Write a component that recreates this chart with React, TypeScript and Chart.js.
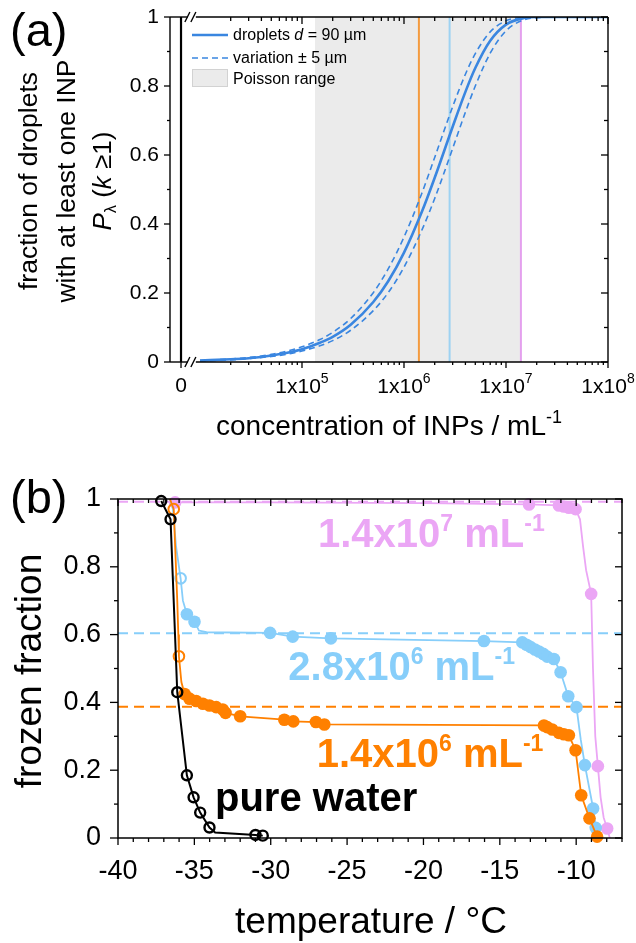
import React, { useEffect, useRef } from 'react';
import { Chart, registerables } from 'chart.js';

Chart.register(...registerables);

const FONT = '"Liberation Sans", Arial, Helvetica, sans-serif';

// ---------------- (a) fraction of droplets with at least one INP ----------------
const concentrations = [1e4, 2e4, 3e4, 5e4, 7e4, 1e5, 1.5e5, 2e5, 3e5, 5e5, 7e5, 1e6, 1.5e6, 2e6, 3e6, 4e6, 5e6, 7e6, 1e7, 1.5e7, 2e7, 3e7, 5e7, 1e8];
const fractionD90 = [0.004, 0.008, 0.011, 0.019, 0.026, 0.037, 0.056, 0.073, 0.108, 0.174, 0.234, 0.317, 0.436, 0.534, 0.682, 0.783, 0.852, 0.931, 0.978, 0.997, 1, 1, 1, 1];
const fractionD85 = [0.003, 0.006, 0.010, 0.016, 0.022, 0.032, 0.047, 0.062, 0.092, 0.149, 0.201, 0.275, 0.383, 0.474, 0.619, 0.724, 0.800, 0.895, 0.960, 0.992, 0.998, 1, 1, 1];
const fractionD95 = [0.004, 0.009, 0.013, 0.022, 0.031, 0.044, 0.065, 0.086, 0.126, 0.201, 0.270, 0.362, 0.490, 0.593, 0.740, 0.834, 0.894, 0.957, 0.989, 0.999, 1, 1, 1, 1];
const poissonRange = [1.34e5, 1.4e7];
const sampleConcentrations = [1.4e6, 2.8e6, 1.4e7];
const xTickExponentsA = [5, 6, 7, 8];
const minorDecadesA = [4, 5, 6, 7];
const yTicksA = [0, 0.2, 0.4, 0.6, 0.8, 1];

// ---------------- (b) frozen fraction vs temperature ----------------
const pureWaterCurve = [[-37.17, 0.994], [-36.56, 0.94], [-36.12, 0.43], [-35.49, 0.185], [-35.05, 0.12], [-34.62, 0.075], [-34.01, 0.031], [-33.64, 0.016], [-31.0, 0.009], [-30.52, 0.007]];
const pureWaterOpen = [[-37.17, 0.994], [-36.56, 0.94], [-36.12, 0.43], [-35.49, 0.185], [-35.05, 0.12], [-34.62, 0.075], [-34.01, 0.031], [-31.0, 0.009], [-30.52, 0.007]];

const conc14e6Curve = [[-36.6, 1.0], [-36.35, 0.97], [-36.25, 0.85], [-36.12, 0.7], [-36.05, 0.6], [-36.01, 0.536], [-35.85, 0.46], [-35.64, 0.425], [-35.32, 0.411], [-34.88, 0.404], [-34.44, 0.396], [-34.01, 0.391], [-33.57, 0.386], [-33.14, 0.379], [-32.96, 0.369], [-32.0, 0.359], [-29.11, 0.349], [-28.52, 0.344], [-27.04, 0.342], [-26.49, 0.335], [-12.11, 0.332], [-11.9, 0.327], [-11.57, 0.32], [-11.13, 0.31], [-10.81, 0.306], [-10.48, 0.303], [-10.04, 0.259], [-9.67, 0.126], [-9.13, 0.058], [-8.63, 0.004]];
const conc14e6Filled = [[-35.64, 0.425], [-35.32, 0.411], [-34.88, 0.404], [-34.44, 0.396], [-34.01, 0.391], [-33.57, 0.386], [-33.14, 0.379], [-32.96, 0.369], [-32.0, 0.359], [-29.11, 0.349], [-28.52, 0.344], [-27.04, 0.342], [-26.49, 0.335], [-12.11, 0.332], [-11.9, 0.327], [-11.57, 0.32], [-11.13, 0.31], [-10.81, 0.306], [-10.48, 0.303], [-10.04, 0.259], [-9.67, 0.126], [-9.13, 0.058], [-8.63, 0.004]];
const conc14e6Open = [[-36.35, 0.97], [-36.01, 0.536]];

const conc28e6Curve = [[-36.6, 1.0], [-36.4, 0.97], [-36.2, 0.86], [-35.9, 0.766], [-35.75, 0.70], [-35.49, 0.66], [-34.99, 0.638], [-34.7, 0.612], [-34.2, 0.607], [-30.04, 0.605], [-28.56, 0.594], [-26.06, 0.589], [-16.04, 0.581], [-13.53, 0.577], [-12.98, 0.563], [-12.44, 0.55], [-11.9, 0.535], [-11.46, 0.528], [-11.02, 0.489], [-10.52, 0.418], [-9.98, 0.386], [-9.7, 0.29], [-9.43, 0.215], [-8.89, 0.087], [-8.72, 0.03], [-8.55, 0.0]];
const conc28e6Filled = [[-35.49, 0.66], [-34.99, 0.638], [-30.04, 0.605], [-28.56, 0.594], [-26.06, 0.589], [-16.04, 0.581], [-13.53, 0.577], [-13.25, 0.57], [-12.98, 0.563], [-12.7, 0.556], [-12.44, 0.55], [-12.15, 0.543], [-11.9, 0.535], [-11.46, 0.528], [-11.02, 0.489], [-10.52, 0.418], [-9.98, 0.386], [-9.43, 0.215], [-8.89, 0.087], [-8.72, 0.03]];
const conc28e6Open = [[-35.9, 0.766]];

const conc14e7Curve = [[-36.6, 1.0], [-36.26, 0.99], [-30.0, 0.99], [-20.0, 0.988], [-13.09, 0.984], [-11.13, 0.981], [-10.81, 0.978], [-10.48, 0.974], [-10.04, 0.97], [-9.75, 0.94], [-9.55, 0.86], [-9.35, 0.79], [-9.02, 0.72], [-8.9, 0.5], [-8.75, 0.3], [-8.58, 0.212], [-8.4, 0.12], [-8.2, 0.06], [-7.97, 0.028], [-7.8, 0.0]];
const conc14e7Filled = [[-36.26, 0.99], [-13.09, 0.984], [-11.13, 0.981], [-10.81, 0.978], [-10.48, 0.974], [-10.04, 0.97], [-9.02, 0.72], [-8.58, 0.212], [-7.97, 0.028]];

const referenceFractions = [0.992, 0.604, 0.387];
const xTicksB = [-40, -35, -30, -25, -20, -15, -10];
const yTicksB = [0, 0.2, 0.4, 0.6, 0.8, 1];

// ---------------- geometry / style ----------------
const LOG_MIN = 3.706;
const LOG_MAX = 8;
const ZERO_POS = 3.814;
const BREAK_POS = 3.93;
const T_MIN = -40;
const T_MAX = -7;

const BLUE = '#3A86E0';
const GRAY_BAND = '#EBEBEB';
const ORANGE = '#FF8000';
const LIGHTBLUE = '#87CEFA';
const VIOLET = '#EBA6F5';
const SAMPLE_COLORS_A = ['#F49B3F', '#9DD2F2', '#E4A0EE'];
const SAMPLE_COLORS_B = [ORANGE, LIGHTBLUE, VIOLET];

const fnt = (size: number, style = '') => `${style} ${size}px ${FONT}`.trim();

type Part = { t: string; font: string; dy?: number };
function drawRich(ctx: CanvasRenderingContext2D, parts: Part[], x: number, y: number, align: 'left' | 'center' | 'right' = 'left') {
  let w = 0;
  for (const p of parts) { ctx.font = p.font; w += ctx.measureText(p.t).width; }
  let cx = align === 'center' ? x - w / 2 : align === 'right' ? x - w : x;
  ctx.textAlign = 'left';
  ctx.textBaseline = 'alphabetic';
  for (const p of parts) {
    ctx.font = p.font;
    ctx.fillText(p.t, cx, y + (p.dy || 0));
    cx += ctx.measureText(p.t).width;
  }
}
function seg(ctx: CanvasRenderingContext2D, x1: number, y1: number, x2: number, y2: number) {
  ctx.beginPath(); ctx.moveTo(x1, y1); ctx.lineTo(x2, y2); ctx.stroke();
}
function rotated(ctx: CanvasRenderingContext2D, bx: number, cy: number, fn: () => void) {
  ctx.save(); ctx.translate(bx, cy); ctx.rotate(-Math.PI / 2); fn(); ctx.restore();
}
const sciParts = (c: number, size: number, supSize: number, dy: number, style: string): Part[] => {
  const e = Math.floor(Math.log10(c) + 1e-9);
  const m = (c / Math.pow(10, e)).toFixed(1);
  return [
    { t: `${m}x10`, font: fnt(size, style) },
    { t: String(e), font: fnt(supSize, style), dy },
    { t: ' mL', font: fnt(size, style) },
    { t: '-1', font: fnt(supSize, style), dy },
  ];
};

// ---------------- panel (a) ----------------
const panelAPlugin = {
  id: 'panelA',
  beforeDatasetsDraw(chart: any) {
    const { ctx, chartArea: { top, bottom }, scales: { x } } = chart;
    const x1 = x.getPixelForValue(Math.log10(poissonRange[0]));
    const x2 = x.getPixelForValue(Math.log10(poissonRange[1]));
    ctx.save();
    ctx.fillStyle = GRAY_BAND;
    ctx.fillRect(x1, top, x2 - x1, bottom - top);
    ctx.restore();
  },
  afterDraw(chart: any) {
    const { ctx, chartArea: { left, right, top, bottom }, scales: { x, y } } = chart;
    ctx.save();
    ctx.strokeStyle = '#000';
    ctx.fillStyle = '#000';
    ctx.lineWidth = 1.4;
    seg(ctx, left, top, left, bottom);
    seg(ctx, right, top, right, bottom);
    const x0 = x.getPixelForValue(ZERO_POS);
    const xb = x.getPixelForValue(BREAK_POS);
    for (const yy of [top, bottom]) {
      seg(ctx, left, yy, xb - 5, yy);
      seg(ctx, xb + 3, yy, right, yy);
      seg(ctx, xb - 8, yy + 5, xb - 3, yy - 5);
      seg(ctx, xb - 2, yy + 5, xb + 3, yy - 5);
    }
    ctx.lineWidth = 2.2;
    seg(ctx, x0, top, x0, bottom);

    // ticks
    ctx.lineWidth = 1.3;
    seg(ctx, x0, bottom, x0, bottom + 6);
    for (const e of xTickExponentsA) {
      const px = x.getPixelForValue(e);
      seg(ctx, px, bottom, px, bottom + 6);
      seg(ctx, px, top, px, top + 7);
    }
    for (const d of minorDecadesA) {
      for (let m = 2; m <= 9; m++) {
        const px = x.getPixelForValue(d + Math.log10(m));
        seg(ctx, px, bottom, px, bottom + 3);
        seg(ctx, px, top, px, top + 4);
      }
    }
    for (let i = 0; i < yTicksA.length; i++) {
      const py = y.getPixelForValue(yTicksA[i]);
      seg(ctx, left - 6, py, left, py);
      seg(ctx, right - 7, py, right, py);
      if (i < yTicksA.length - 1) {
        const pm = y.getPixelForValue((yTicksA[i] + yTicksA[i + 1]) / 2);
        seg(ctx, left - 3, pm, left, pm);
        seg(ctx, right - 4, pm, right, pm);
      }
    }

    // tick labels
    ctx.font = fnt(21);
    ctx.textAlign = 'right';
    ctx.textBaseline = 'middle';
    for (const v of yTicksA) ctx.fillText(String(v), left - 11, y.getPixelForValue(v));
    drawRich(ctx, [{ t: '0', font: fnt(21) }], x0, 392, 'center');
    for (const e of xTickExponentsA) {
      drawRich(ctx, [{ t: '1x10', font: fnt(21) }, { t: String(e), font: fnt(14), dy: -10 }], x.getPixelForValue(e), 393, 'center');
    }

    // axis titles
    drawRich(ctx, [{ t: 'concentration of INPs / mL', font: fnt(28) }, { t: '-1', font: fnt(18), dy: -12 }], (left + right) / 2, 435, 'center');
    rotated(ctx, 37, 181, () => drawRich(ctx, [{ t: 'fraction of droplets', font: fnt(26.5) }], 0, 0, 'center'));
    rotated(ctx, 75, 181, () => drawRich(ctx, [{ t: 'with at least one INP', font: fnt(26.5) }], 0, 0, 'center'));
    rotated(ctx, 111, 181, () => drawRich(ctx, [
      { t: 'P', font: fnt(26, 'italic') },
      { t: 'λ', font: fnt(16), dy: 5 },
      { t: ' (', font: fnt(26) },
      { t: 'k', font: fnt(26, 'italic') },
      { t: ' ≥1)', font: fnt(26) },
    ], 0, 0, 'center'));

    // panel label
    drawRich(ctx, [{ t: '(a)', font: fnt(47) }], 10, 46, 'left');

    // legend
    ctx.strokeStyle = BLUE;
    ctx.lineWidth = 2.6;
    seg(ctx, 192, 35, 228, 35);
    ctx.lineWidth = 1.6;
    ctx.setLineDash([6, 4]);
    seg(ctx, 192, 58, 228, 58);
    ctx.setLineDash([]);
    ctx.fillStyle = GRAY_BAND;
    ctx.fillRect(192, 69, 36, 18);
    ctx.strokeStyle = '#D2D2D2';
    ctx.lineWidth = 1;
    ctx.strokeRect(192.5, 69.5, 35, 17);
    ctx.fillStyle = '#000';
    drawRich(ctx, [{ t: 'droplets ', font: fnt(16) }, { t: 'd', font: fnt(16, 'italic') }, { t: ' = 90 µm', font: fnt(16) }], 233, 40, 'left');
    drawRich(ctx, [{ t: 'variation ± 5 µm', font: fnt(16) }], 233, 63, 'left');
    drawRich(ctx, [{ t: 'Poisson range', font: fnt(16) }], 233, 84, 'left');
    ctx.restore();
  },
};

function configA(): any {
  const xy = (vals: number[]) => concentrations.map((c, i) => ({ x: Math.log10(c), y: vals[i] }));
  const back: any[] = [];
  sampleConcentrations.forEach((c, i) => {
    back.push({
      data: [{ x: Math.log10(c), y: 0 }, { x: Math.log10(c), y: 1 }],
      showLine: true, borderColor: SAMPLE_COLORS_A[i], borderWidth: 2, pointRadius: 0,
    });
  });
  back.push({ data: xy(fractionD85), showLine: true, borderColor: BLUE, borderWidth: 1.6, borderDash: [6, 4], pointRadius: 0, cubicInterpolationMode: 'monotone' });
  back.push({ data: xy(fractionD95), showLine: true, borderColor: BLUE, borderWidth: 1.6, borderDash: [6, 4], pointRadius: 0, cubicInterpolationMode: 'monotone' });
  back.push({ data: xy(fractionD90), showLine: true, borderColor: BLUE, borderWidth: 2.6, pointRadius: 0, cubicInterpolationMode: 'monotone' });
  return {
    type: 'scatter',
    data: { datasets: back.reverse() },
    options: {
      responsive: false,
      animation: false,
      devicePixelRatio: 1,
      events: [],
      layout: { padding: { left: 170, right: 28, top: 17, bottom: 88 } },
      plugins: { legend: { display: false }, tooltip: { enabled: false } },
      scales: {
        x: { type: 'linear', min: LOG_MIN, max: LOG_MAX, display: false },
        y: { type: 'linear', min: 0, max: 1, display: false },
      },
    },
    plugins: [panelAPlugin],
  };
}

// ---------------- panel (b) ----------------
const panelBPlugin = {
  id: 'panelB',
  afterDraw(chart: any) {
    const { ctx, chartArea: { left, right, top, bottom }, scales: { x, y } } = chart;
    ctx.save();
    ctx.strokeStyle = '#000';
    ctx.fillStyle = '#000';
    ctx.lineWidth = 1.5;
    ctx.strokeRect(left, top, right - left, bottom - top);

    ctx.lineWidth = 1.3;
    for (let t = T_MIN; t <= T_MAX; t++) {
      const px = x.getPixelForValue(t);
      const major = xTicksB.includes(t);
      seg(ctx, px, bottom, px, bottom + (major ? 7 : 4));
      seg(ctx, px, top, px, top + (major ? 7 : 4));
    }
    for (let i = 0; i < yTicksB.length; i++) {
      const py = y.getPixelForValue(yTicksB[i]);
      seg(ctx, left - 8, py, left, py);
      seg(ctx, right - 7, py, right, py);
      if (i < yTicksB.length - 1) {
        const pm = y.getPixelForValue((yTicksB[i] + yTicksB[i + 1]) / 2);
        seg(ctx, left - 4, pm, left, pm);
        seg(ctx, right - 4, pm, right, pm);
      }
    }

    ctx.font = fnt(27);
    ctx.textAlign = 'right';
    ctx.textBaseline = 'middle';
    for (const v of yTicksB) ctx.fillText(String(v), left - 17, y.getPixelForValue(v));
    for (const t of xTicksB) drawRich(ctx, [{ t: String(t), font: fnt(27) }], x.getPixelForValue(t), 429, 'center');

    drawRich(ctx, [{ t: 'temperature / °C', font: fnt(37) }], 371, 483, 'center');
    rotated(ctx, 41, 221, () => drawRich(ctx, [{ t: 'frozen fraction', font: fnt(37) }], 0, 0, 'center'));
    drawRich(ctx, [{ t: '(b)', font: fnt(47) }], 10, 63, 'left');

    // annotations
    const annX = [316.7, 288.3, 318];
    const annY = [316.7, 230, 96.7];
    sampleConcentrations.forEach((c, i) => {
      ctx.fillStyle = SAMPLE_COLORS_B[i];
      drawRich(ctx, sciParts(c, 40, 23, -16, 'bold'), annX[i], annY[i], 'left');
    });
    ctx.fillStyle = '#000';
    drawRich(ctx, [{ t: 'pure water', font: fnt(40, 'bold') }], 215, 360.7, 'left');
    ctx.restore();
  },
};

function configB(): any {
  const pts = (arr: number[][]) => arr.map(([t, v]) => ({ x: t, y: v }));
  const series = [
    { curve: conc14e7Curve, filled: conc14e7Filled, open: [] as number[][], color: VIOLET, black: false },
    { curve: conc28e6Curve, filled: conc28e6Filled, open: conc28e6Open, color: LIGHTBLUE, black: false },
    { curve: conc14e6Curve, filled: conc14e6Filled, open: conc14e6Open, color: ORANGE, black: false },
    { curve: pureWaterCurve, filled: [] as number[][], open: pureWaterOpen, color: '#000000', black: true },
  ];
  const refColors = [VIOLET, LIGHTBLUE, ORANGE];
  const back: any[] = [];
  referenceFractions.forEach((v, i) => {
    back.push({ data: [{ x: T_MIN, y: v }, { x: T_MAX, y: v }], showLine: true, borderColor: refColors[i], borderWidth: 2, borderDash: [10, 6], pointRadius: 0 });
  });
  for (const s of series) {
    back.push({ data: pts(s.curve), showLine: true, borderColor: s.color, borderWidth: s.black ? 2 : 1.8, pointRadius: 0, clip: false });
    if (s.filled.length) back.push({ data: pts(s.filled), showLine: false, pointRadius: 6.3, pointBorderWidth: 0, pointBackgroundColor: s.color, pointBorderColor: s.color, clip: false });
    if (s.open.length) back.push({ data: pts(s.open), showLine: false, pointRadius: s.black ? 5 : 5.3, pointBorderWidth: s.black ? 2.4 : 2, pointBackgroundColor: 'rgba(0,0,0,0)', pointBorderColor: s.color, clip: false });
  }
  return {
    type: 'scatter',
    data: { datasets: back.reverse() },
    options: {
      responsive: false,
      animation: false,
      devicePixelRatio: 1,
      events: [],
      layout: { padding: { left: 118, right: 14, top: 49, bottom: 105 } },
      plugins: { legend: { display: false }, tooltip: { enabled: false } },
      scales: {
        x: { type: 'linear', min: T_MIN, max: T_MAX, display: false },
        y: { type: 'linear', min: 0, max: 1, display: false },
      },
    },
    plugins: [panelBPlugin],
  };
}

export default function App() {
  const refA = useRef<HTMLCanvasElement>(null);
  const refB = useRef<HTMLCanvasElement>(null);
  useEffect(() => {
    const a = new Chart(refA.current as HTMLCanvasElement, configA());
    const b = new Chart(refB.current as HTMLCanvasElement, configB());
    return () => { a.destroy(); b.destroy(); };
  }, []);
  return (
    <div style={{ position: 'absolute', left: 0, top: 0, width: 636, height: 943, background: '#fff' }}>
      <canvas ref={refA} width={636} height={450} style={{ position: 'absolute', left: 0, top: 0, width: 636, height: 450 }} />
      <canvas ref={refB} width={636} height={493} style={{ position: 'absolute', left: 0, top: 450, width: 636, height: 493 }} />
    </div>
  );
}
